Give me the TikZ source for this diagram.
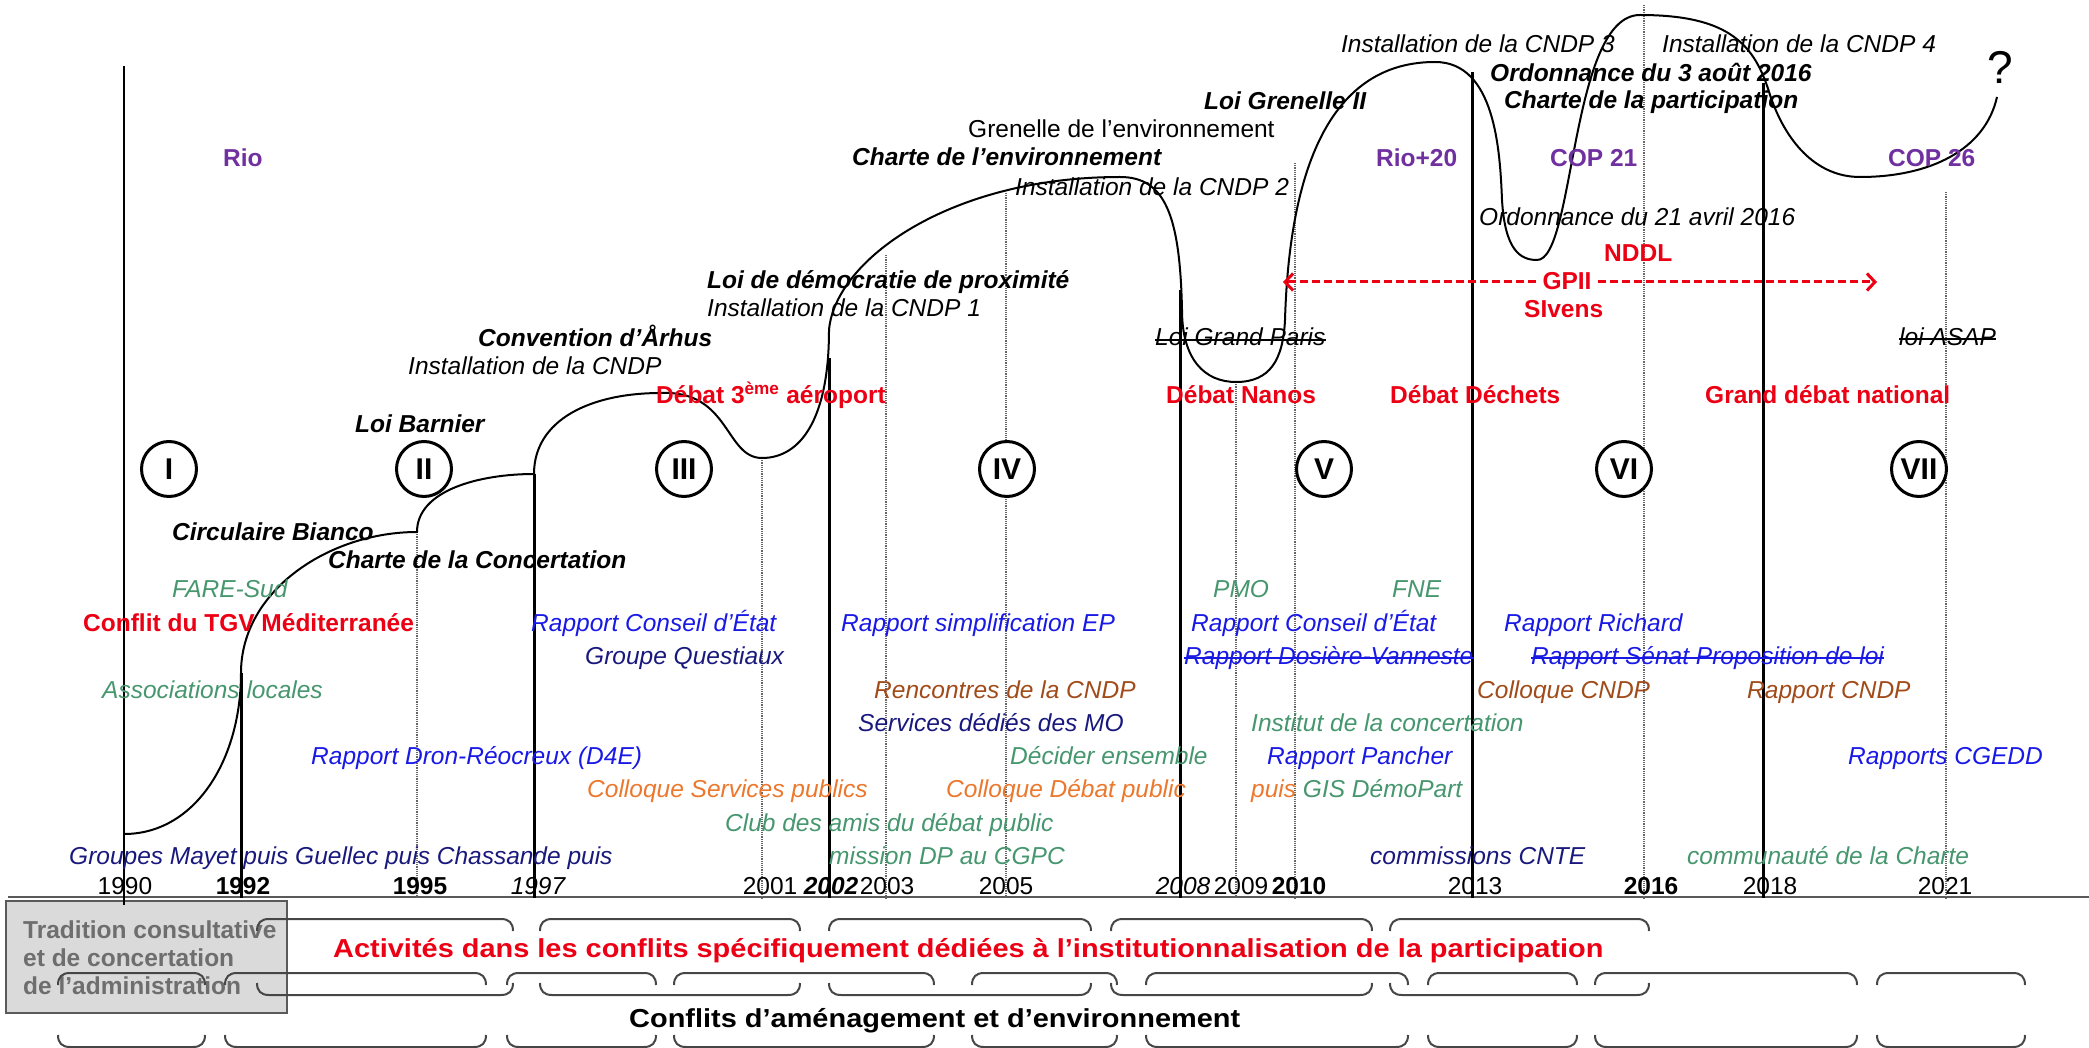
\documentclass[tikz,border=0pt]{standalone}
\usepackage{fontspec}
\setmainfont{Liberation Sans}
\usetikzlibrary{arrows.meta}
\definecolor{cRed}{RGB}{235,0,20}
\definecolor{cBlue}{RGB}{25,25,230}
\definecolor{cNavy}{RGB}{25,25,125}
\definecolor{cGreen}{RGB}{70,150,110}
\definecolor{cOrange}{RGB}{235,120,45}
\definecolor{cBrown}{RGB}{160,75,25}
\definecolor{cPurple}{RGB}{112,48,160}
\definecolor{cGrayTxt}{RGB}{110,110,110}
\definecolor{cBoxFill}{RGB}{218,218,218}
\definecolor{cBoxLine}{RGB}{90,90,90}
\definecolor{cBrk}{RGB}{70,70,70}
\newcommand\mysz{\fontsize{24.5}{29}\selectfont}
\begin{document}
\begin{tikzpicture}[x=1pt,y=-1pt,
  txt/.style={inner sep=0pt, anchor=base west, font=\mysz},
  itx/.style={txt, font=\mysz\itshape},
  bix/.style={txt, font=\mysz\bfseries\itshape},
  bfx/.style={txt, font=\mysz\bfseries},
  bigx/.style={txt, font=\fontsize{26}{30}\selectfont\bfseries, xscale=1.113},
  yr/.style={inner sep=0pt, anchor=base, font=\mysz},
  yrb/.style={yr, font=\mysz\bfseries},
  yri/.style={yr, font=\mysz\itshape},
  yrbi/.style={yr, font=\mysz\bfseries\itshape},
  circ/.style={circle, draw, line width=3pt, minimum size=55pt, inner sep=0pt, fill=white, font=\fontsize{30}{30}\selectfont\bfseries},
  boxst/.style={draw=cBoxLine, fill=cBoxFill, line width=2pt, minimum width=281pt, minimum height=112pt, inner sep=0pt, anchor=north west},
  axisl/.style={draw=black!65, line width=2pt},
  dotl/.style={draw=black!60, densely dotted, line width=1.2pt},
  soll/.style={draw=black, line width=3pt},
  curvel/.style={draw=black, line width=2pt},
  brk/.style={draw=cBrk, line width=2pt},
  strk/.style={line width=1.5pt}
]
\useasboundingbox (0,0) rectangle (2089,1048);

% box of the first period
\node[boxst] (box) at (5,900) {};
\node[bfx, text=cGrayTxt] (tr1) at (23,938) {Tradition consultative};
\node[bfx, text=cGrayTxt] (tr2) at (23,966) {et de concertation};
\node[bfx, text=cGrayTxt] (tr3) at (23,994) {de l’administration};

% axis
\draw[axisl] (8,897) -- (2089,897);

% dotted year lines
\foreach \x/\t in {417/532,762/458,886/255,1006/193,1236/382,1295/163,1644/5,1946/192}
  \draw[dotl] (\x,\t) -- (\x,899);
% solid year lines
\draw[line width=1.5pt] (124,66) -- (124,905);
\foreach \x/\t in {241/673,534/474,829/358,1180/290,1472/72,1763/83}
  \draw[soll] (\x,\t) -- (\x,898);

% main curve
\draw[curvel] (124,834) .. controls (195,834) and (241,760) .. (241,673)
 .. controls (241,590) and (330,532) .. (417,532)
 .. controls (417,490) and (480,474) .. (534,474)
 .. controls (534,420) and (590,393) .. (661,393)
 .. controls (730,390) and (725,458) .. (762,458)
 .. controls (800,458) and (829,420) .. (829,330)
 .. controls (835,260) and (950,177) .. (1120,177)
 .. controls (1165,177) and (1180,215) .. (1182,310)
 .. controls (1182,360) and (1205,382) .. (1236,382)
 .. controls (1270,382) and (1283,360) .. (1285,320)
 .. controls (1290,150) and (1340,62) .. (1435,62)
 .. controls (1495,62) and (1500,150) .. (1502,200)
 .. controls (1505,250) and (1520,260) .. (1537,260)
 .. controls (1575,260) and (1570,15) .. (1640,15)
 .. controls (1730,15) and (1755,45) .. (1770,95)
 .. controls (1785,140) and (1815,177) .. (1860,177)
 .. controls (1930,177) and (1985,150) .. (1997,97);
\node[inner sep=0pt, font=\fontsize{46}{46}\selectfont] (qm) at (2000,67) {?};

% period circles
\node[circ] (c1) at (169,469) {I};
\node[circ] (c2) at (424,469) {II};
\node[circ] (c3) at (684,469) {III};
\node[circ] (c4) at (1007,469) {IV};
\node[circ] (c5) at (1324,469) {V};
\node[circ] (c6) at (1624,469) {VI};
\node[circ] (c7) at (1919,469) {VII};

% years
\node[yr]   (y1990) at (125,894) {1990};
\node[yrb]  (y1992) at (243,894) {1992};
\node[yrb]  (y1995) at (420,894) {1995};
\node[yri]  (y1997) at (538,894) {1997};
\node[yr]   (y2001) at (770,894) {2001};
\node[yrbi] (y2002) at (831,894) {2002};
\node[yr]   (y2003) at (887,894) {2003};
\node[yr]   (y2005) at (1006,894) {2005};
\node[yri]  (y2008) at (1183,894) {2008};
\node[yr]   (y2009) at (1241,894) {2009};
\node[yrb]  (y2010) at (1299,894) {2010};
\node[yr]   (y2013) at (1475,894) {2013};
\node[yrb]  (y2016) at (1651,894) {2016};
\node[yr]   (y2018) at (1770,894) {2018};
\node[yr]   (y2021) at (1945,894) {2021};

% international summits
\node[bfx, text=cPurple] (rio) at (223,167) {Rio};
\node[bfx, text=cPurple] (rio20) at (1376,167) {Rio+20};
\node[bfx, text=cPurple] (cop21) at (1550,167) {COP 21};
\node[bfx, text=cPurple] (cop26) at (1888,167) {COP 26};

% laws and institutions (top)
\node[itx, anchor=base east] (cndp3) at (1615,53) {Installation de la CNDP 3};
\node[itx] (cndp4) at (1662,53) {Installation de la CNDP 4};
\node[bix] (ord3) at (1490,82) {Ordonnance du 3 août 2016};
\node[bix] (chpart) at (1504,109) {Charte de la participation};
\node[bix] (lg2) at (1204,110) {Loi Grenelle II};
\node[txt] (gren) at (968,138) {Grenelle de l’environnement};
\node[bix] (chenv) at (852,166) {Charte de l’environnement};
\node[itx] (cndp2) at (1015,196) {Installation de la CNDP 2};
\node[itx] (ord21) at (1479,226) {Ordonnance du 21 avril 2016};
\node[bfx, text=cRed] (nddl) at (1604,262) {NDDL};
\node[bfx, text=cRed, anchor=base] (gp) at (1567,290) {GPII};
\node[bfx, text=cRed] (sivens) at (1524,318) {SIvens};
\node[bix] (ldp) at (707,289) {Loi de démocratie de proximité};
\node[itx] (cndp1) at (707,317) {Installation de la CNDP 1};
\node[bix] (arhus) at (478,347) {Convention d’Århus};
\node[itx] (cndp0) at (408,375) {Installation de la CNDP};
\node[itx] (lgp) at (1155,346) {Loi Grand Paris};
\node[itx] (asap) at (1899,346) {loi ASAP};
\node[bfx, text=cRed] (d3a) at (656,404) {Débat 3\textsuperscript{ème} aéroport};
\node[bfx, text=cRed] (dnan) at (1166,404) {Débat Nanos};
\node[bfx, text=cRed] (ddec) at (1390,404) {Débat Déchets};
\node[bfx, text=cRed] (gdn) at (1705,404) {Grand débat national};
\node[bix] (barn) at (355,432) {Loi Barnier};

% GPII arrow
\coordinate (gpL) at (1283,282);
\coordinate (gpR) at (1877,282);
\draw[cRed, line width=3pt, dash pattern=on 8pt off 4pt, -{Straight Barb[length=8pt,width=17pt]}] ([xshift=-6pt]gp.west |- gpL) -- (gpL);
\draw[cRed, line width=3pt, dash pattern=on 8pt off 4pt, -{Straight Barb[length=8pt,width=17pt]}] ([xshift=6pt]gp.east |- gpR) -- (gpR);

% middle texts
\node[bix] (bianco) at (172,540) {Circulaire Bianco};
\node[bix] (chconc) at (328,568) {Charte de la Concertation};
\node[itx, text=cGreen] (fare) at (172,597) {FARE-Sud};
\node[itx, text=cGreen] (pmo) at (1213,597) {PMO};
\node[itx, text=cGreen] (fne) at (1392,597) {FNE};
\node[bfx, text=cRed] (tgv) at (83,631) {Conflit du TGV Méditerranée};
\node[itx, text=cBlue] (rce1) at (531,631) {Rapport Conseil d’État};
\node[itx, text=cBlue] (rsep) at (841,631) {Rapport simplification EP};
\node[itx, text=cBlue] (rce2) at (1191,631) {Rapport Conseil d’État};
\node[itx, text=cBlue] (rrich) at (1504,631) {Rapport Richard};
\node[itx, text=cNavy] (gq) at (585,664) {Groupe Questiaux};
\node[itx, text=cBlue] (dv) at (1184,664) {Rapport Dosière-Vanneste};
\node[itx, text=cBlue] (sn) at (1531,664) {Rapport Sénat Proposition de loi};
\node[itx, text=cGreen] (assoc) at (102,698) {Associations locales};
\node[itx, text=cBrown] (renc) at (874,698) {Rencontres de la CNDP};
\node[itx, text=cBrown] (collc) at (1477,698) {Colloque CNDP};
\node[itx, text=cBrown] (rcndp) at (1747,698) {Rapport CNDP};
\node[itx, text=cNavy] (serv) at (858,731) {Services dédiés des MO};
\node[itx, text=cGreen] (inst) at (1251,731) {Institut de la concertation};
\node[itx, text=cBlue] (dron) at (311,764) {Rapport Dron-Réocreux (D4E)};
\node[itx, text=cGreen] (dec) at (1010,764) {Décider ensemble};
\node[itx, text=cBlue] (panch) at (1267,764) {Rapport Pancher};
\node[itx, text=cBlue] (cgedd) at (1848,764) {Rapports CGEDD};
\node[itx, text=cOrange] (csp) at (587,797) {Colloque Services publics};
\node[itx, text=cOrange] (cdp) at (946,797) {Colloque Débat public};
\node[itx, text=cGreen] (gis) at (1251,797) {{\color{cOrange}puis} GIS DémoPart};
\node[itx, text=cGreen] (club) at (725,831) {Club des amis du débat public};
\node[itx, text=cNavy] (mayet) at (69,864) {Groupes Mayet puis Guellec puis Chassande puis};
\node[itx, text=cGreen] (cgpc) at (829,864) {mission DP au CGPC};
\node[itx, text=cNavy] (cnte) at (1370,864) {commissions CNTE};
\node[itx, text=cGreen] (charte) at (1687,864) {communauté de la Charte};

% strike-through
\draw[strk] ([yshift=6pt]lgp.base west) -- ([yshift=6pt]lgp.base east);
\draw[strk] ([yshift=7pt]asap.base west) -- ([yshift=7pt]asap.base east);
\draw[strk, cBlue] ([yshift=6pt]dv.base west) -- ([yshift=6pt]dv.base east);
\draw[strk, cBlue] ([yshift=6pt]sn.base west) -- ([yshift=6pt]sn.base east);

% bottom texts
\node[bigx, text=cRed] (act) at (333,957) {Activités dans les conflits spécifiquement dédiées à l’institutionnalisation de la participation};
\node[bigx] (conf) at (629,1027) {Conflits d’aménagement et d’environnement};

% brackets
\foreach \a/\b in {257/513,540/800,829/1091,1111/1372,1390/1649}{
  \draw[brk] (\a,931) .. controls (\a,923) and (\a+4,919) .. (\a+12,919) -- (\b-12,919) .. controls (\b-4,919) and (\b,923) .. (\b,931);
  \draw[brk] (\a,983) .. controls (\a,991) and (\a+4,995) .. (\a+12,995) -- (\b-12,995) .. controls (\b-4,995) and (\b,991) .. (\b,983);
}
\foreach \a/\b in {58/205,225/486,507/656,674/934,972/1117,1146/1408,1428/1577,1595/1857,1877/2025}{
  \draw[brk] (\a,985) .. controls (\a,977) and (\a+4,973) .. (\a+12,973) -- (\b-12,973) .. controls (\b-4,973) and (\b,977) .. (\b,985);
  \draw[brk] (\a,1035) .. controls (\a,1043) and (\a+4,1047) .. (\a+12,1047) -- (\b-12,1047) .. controls (\b-4,1047) and (\b,1043) .. (\b,1035);
}
\end{tikzpicture}
\end{document}
